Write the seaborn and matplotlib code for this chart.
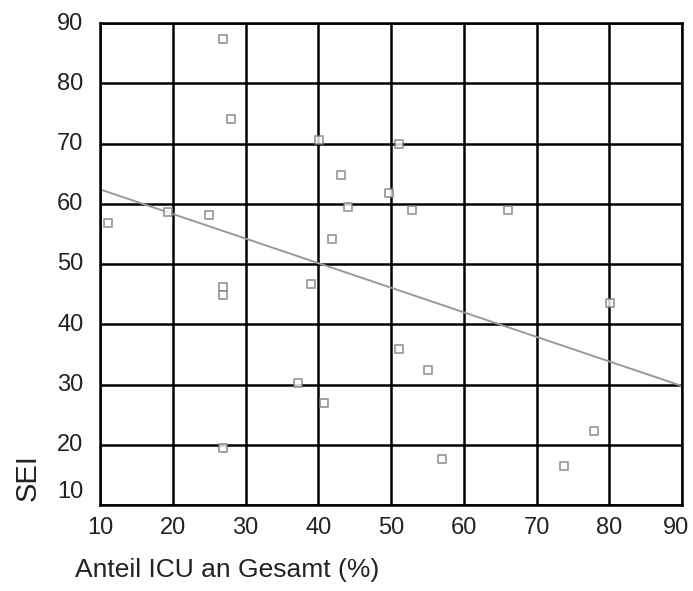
import matplotlib
matplotlib.use("Agg")
import matplotlib.pyplot as plt
from matplotlib.transforms import ScaledTranslation
import numpy as np
import pandas as pd
import seaborn as sns

# Share of ICU cases (%) and SEI score per unit
icu_share = [26.9, 28.0, 40.1, 43.1, 49.7, 44.1, 41.9, 25.0, 19.3, 11.1,
             51.1, 52.9, 66.1, 26.9, 26.9, 39.0, 37.2, 40.8, 26.9, 80.1,
             51.1, 55.1, 77.9, 57.0, 73.8]
sei = [87.4, 74.0, 70.6, 64.8, 61.8, 59.4, 54.1, 58.1, 58.6, 56.8,
       70.0, 59.0, 59.0, 46.1, 44.9, 46.6, 30.2, 27.0, 19.5, 43.5,
       35.9, 32.4, 22.2, 17.7, 16.5]

x_ticks = [10, 20, 30, 40, 50, 60, 70, 80, 90]
y_ticks = [10, 20, 30, 40, 50, 60, 70, 80, 90]

df = pd.DataFrame({"icu": icu_share, "sei": sei})

sns.set_style("white")
plt.rcParams["font.family"] = ["Liberation Sans", "DejaVu Sans"]

fig = plt.figure(figsize=(6.93, 5.91), dpi=100)
ax = fig.add_axes([100 / 693, 1 - 505 / 591, 582 / 693, 482 / 591])

ax.set_xlim(10, 90)
ax.set_ylim(10, 90)
ax.set_xticks(x_ticks)
ax.set_yticks(y_ticks)

# grid drawn below the points
ax.set_axisbelow(True)
ax.grid(True, color="black", linewidth=1.8)

sns.regplot(data=df, x="icu", y="sei", ax=ax, ci=None, truncate=False,
            marker="s",
            scatter_kws=dict(s=28, facecolors="white", edgecolors="#7a7a7a",
                             linewidths=1.2, zorder=3),
            line_kws=dict(color="#9a9a9a", linewidth=1.4, zorder=2))

for s in ax.spines.values():
    s.set_visible(True)
    s.set_color("black")
    s.set_linewidth(1.8)

ax.tick_params(axis="x", length=3, width=1.8, color="black", pad=6,
               labelsize=17, labelcolor="#222222")
ax.tick_params(axis="y", length=0, pad=12, labelsize=17, labelcolor="#222222")

# nudge the y tick labels slightly upward; the lowest one more
for lab, val in zip(ax.get_yticklabels(), y_ticks):
    dy = 16 if val == 10 else 2
    lab.set_transform(lab.get_transform() +
                      ScaledTranslation(0, dy / 100, fig.dpi_scale_trans))

# keep the last x tick label inside the figure
last = ax.get_xticklabels()[-1]
last.set_transform(last.get_transform() +
                   ScaledTranslation(-6 / 100, 0, fig.dpi_scale_trans))

ax.set_xlabel("")
ax.set_ylabel("")
fig.text(75 / 693, 1 - 570 / 591, "Anteil ICU an Gesamt (%)", fontsize=19,
         color="#222222", ha="left", va="center")
fig.text(28 / 693, 1 - 478 / 591, "SEI", fontsize=21, rotation=90,
         color="#222222", ha="center", va="center")

fig.savefig("out.png", dpi=100, facecolor="white")
